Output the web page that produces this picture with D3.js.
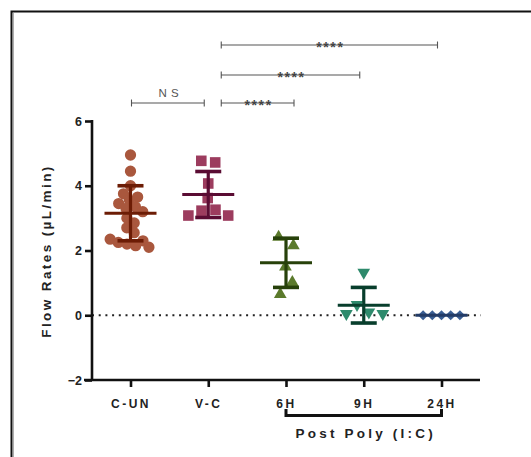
<!DOCTYPE html>
<html>
<head>
<meta charset="utf-8">
<script src="https://cdn.jsdelivr.net/npm/d3@7"></script>
<style>
  body { margin: 0; background: #fff; }
  text { font-family: "Liberation Sans", Arial, sans-serif; }
</style>
</head>
<body>
<div class="CHART"></div>
<script>
// data
var categories = ["C-UN", "V-C", "6H", "9H", "24H"];
var cunVals = [4.95, 4.45, 4.0, 3.75, 3.65, 3.55, 3.45, 3.35, 3.3, 3.2, 3.0, 2.85, 2.7, 2.55, 2.35, 2.3, 2.25, 2.2, 2.15, 2.1];
var vcVals  = [4.77, 4.72, 4.07, 3.62, 3.26, 3.23, 3.08, 3.08];
var h6Vals  = [2.46, 2.2, 1.54, 1.06, 0.69];
var h9Vals  = [1.28, 0.28, 0.05, 0.0, 0.0];
var h24Vals = [0, 0, 0, 0, 0];
var means = [3.15, 3.73, 1.62, 0.31, 0];
var sds   = [0.85, 0.71, 0.76, 0.55, 0];
var yTicks = [-2, 0, 2, 4, 6];
var comparisons = [
  {a: "C-UN", b: "V-C", label: "N S"},
  {a: "V-C", b: "6H", label: "****"},
  {a: "V-C", b: "9H", label: "****"},
  {a: "V-C", b: "24H", label: "****"}
];

// look of each group (not data). r = spacing used by the swarm
var groups = [
  {vals: cunVals, shape: "circle",   fill: "#a9573d", bar: "#6c1c05", r: 4.4},
  {vals: vcVals,  shape: "square",   fill: "#9c3c5e", bar: "#5a0c33", r: 7},
  {vals: h6Vals,  shape: "triUp",    fill: "#5b7a2c", bar: "#27410a", r: 8.5},
  {vals: h9Vals,  shape: "triDown",  fill: "#2e8a6c", bar: "#083e2c", r: 7},
  {vals: h24Vals, shape: "diamond",  fill: "#3a5f95", bar: "#233b66", r: 4.6}
];
// bracket placement: pixel row + trims
var bracketRows = [
  {yy: 103, x1: 1, x2: -4},
  {yy: 103, x1: 13, x2: 8},
  {yy: 75,  x1: 13, x2: -4},
  {yy: 45,  x1: 13, x2: -4}
];

var W = 531, H = 457;
var svg = d3.select(".CHART").append("svg")
  .attr("width", W).attr("height", H);

// frame round the figure
svg.append("path").attr("d", "M11.5,457V11.5H531")
  .attr("fill", "none").attr("stroke", "#111").attr("stroke-width", 2);
svg.append("line").attr("x1", 13.5).attr("x2", 13.5).attr("y1", 13).attr("y2", 457)
  .attr("stroke", "#999").attr("stroke-width", 0.8);

var x = d3.scalePoint().domain(categories).range([130.5, 441.5]);
var y = d3.scaleLinear().domain([-2, 6]).range([380, 121]);

// zero dotted line
svg.append("line")
  .attr("x1", 92).attr("x2", 481).attr("y1", y(0)).attr("y2", y(0))
  .attr("stroke", "#222").attr("stroke-width", 2).attr("stroke-dasharray", "2,4.7");

// axes
var yAxis = svg.append("g").attr("transform", "translate(92,0)")
  .call(d3.axisLeft(y).tickValues(yTicks).tickSize(7).tickPadding(3).tickFormat(d3.format("d")));
yAxis.select(".domain").remove();
yAxis.append("line").attr("x1", 0).attr("x2", 0).attr("y1", y(6) - 1).attr("y2", y(-2) + 1)
  .attr("stroke", "#111").attr("stroke-width", 2.6);
yAxis.selectAll(".tick line").attr("stroke", "#111").attr("stroke-width", 2.6);
yAxis.selectAll(".tick text").attr("fill", "#222").attr("font-size", 12.5).attr("font-weight", "bold")
  .attr("font-family", "Liberation Sans, Arial, sans-serif");

var xAxis = svg.append("g").attr("transform", "translate(0," + y(-2) + ")")
  .call(d3.axisBottom(x).tickSize(7).tickPadding(12));
xAxis.select(".domain").remove();
xAxis.append("line").attr("x1", 84).attr("x2", 480).attr("y1", 0).attr("y2", 0)
  .attr("stroke", "#111").attr("stroke-width", 2.6);
xAxis.selectAll(".tick line").attr("stroke", "#111").attr("stroke-width", 2.6);
xAxis.selectAll(".tick text").attr("fill", "#222").attr("font-size", 12).attr("font-weight", "bold")
  .attr("letter-spacing", "2.5px").attr("font-family", "Liberation Sans, Arial, sans-serif");

// y title
svg.append("text")
  .attr("transform", "translate(51,251) rotate(-90)")
  .attr("text-anchor", "middle").attr("font-size", 13.5).attr("font-weight", "bold")
  .attr("letter-spacing", "2.4px").attr("fill", "#222")
  .text("Flow Rates (µL/min)");

// bracket under 6H..24H
var bx1 = x("6H"), bx2 = x("24H");
svg.append("path")
  .attr("d", "M" + bx1 + ",409V415.5H" + bx2 + "V409")
  .attr("fill", "none").attr("stroke", "#111").attr("stroke-width", 3);
svg.append("text")
  .attr("x", (bx1 + bx2) / 2 + 2).attr("y", 438)
  .attr("text-anchor", "middle").attr("font-size", 13.5).attr("font-weight", "bold")
  .attr("letter-spacing", "3.2px").attr("fill", "#222")
  .text("Post Poly (I:C)");

// beeswarm offsets via force layout, y stays on the value
function swarm(vals, cx, r) {
  var nodes = vals.map(function(v) { return {v: v, x: cx, fy: y(v)}; });
  d3.forceSimulation(nodes)
    .force("x", d3.forceX(cx).strength(0.08))
    .force("c", d3.forceCollide(r))
    .stop()
    .tick(300);
  return nodes;
}

function symbolPath(shape) {
  if (shape === "circle") return d3.symbol(d3.symbolCircle, 100)();
  if (shape === "square") return d3.symbol(d3.symbolSquare, 112)();
  if (shape === "diamond") return d3.symbol(d3.symbolSquare, 52)();
  return d3.symbol(d3.symbolTriangle, 70)();
}

groups.forEach(function(g, i) {
  var cx = x(categories[i]);
  var nodes = swarm(g.vals, cx, g.r);
  svg.append("g").selectAll("path")
    .data(nodes)
    .enter()
    .append("path")
    .attr("d", symbolPath(g.shape))
    .attr("fill", g.fill)
    .attr("transform", function(d) {
      var rot = g.shape === "triDown" ? " rotate(180)" : g.shape === "diamond" ? " rotate(45)" : "";
      var off = g.shape === "triUp" ? 1.5 : g.shape === "triDown" ? -1.5 : 0;
      return "translate(" + d.x + "," + (d.fy + off) + ")" + rot;
    });

  // mean and SD bars
  var eb = svg.append("g").attr("stroke", g.bar).attr("fill", "none");
  var m = means[i], s = sds[i];
  eb.append("line").attr("x1", cx - 26).attr("x2", cx + 26)
    .attr("y1", y(m)).attr("y2", y(m)).attr("stroke-width", 3);
  if (s > 0) {
    eb.append("line").attr("x1", cx).attr("x2", cx)
      .attr("y1", y(m + s)).attr("y2", y(m - s)).attr("stroke-width", 3.2);
    [m + s, m - s].forEach(function(v) {
      eb.append("line").attr("x1", cx - 13).attr("x2", cx + 13)
        .attr("y1", y(v)).attr("y2", y(v)).attr("stroke-width", 3.6);
    });
  }
});

// significance brackets
comparisons.forEach(function(c, i) {
  var row = bracketRows[i];
  var x1 = x(c.a) + row.x1, x2 = x(c.b) + row.x2;
  var g = svg.append("g").attr("stroke", "#555").attr("fill", "none");
  g.append("path")
    .attr("d", "M" + x1 + "," + (row.yy - 3.5) + "V" + (row.yy + 3.5) +
               "M" + x1 + "," + row.yy + "H" + x2 +
               "M" + x2 + "," + (row.yy - 3.5) + "V" + (row.yy + 3.5))
    .attr("stroke-width", 1.1);
  var isNS = c.label === "N S";
  svg.append("text")
    .attr("x", (x1 + x2) / 2 + 1)
    .attr("y", isNS ? row.yy - 6 : row.yy + 6.5)
    .attr("text-anchor", "middle")
    .attr("font-size", isNS ? 11.5 : 14)
    .attr("font-weight", isNS ? "normal" : "bold")
    .attr("letter-spacing", isNS ? "0.5px" : "1.6px")
    .attr("fill", isNS ? "#555" : "#444")
    .text(c.label);
});
</script>
</body>
</html>
